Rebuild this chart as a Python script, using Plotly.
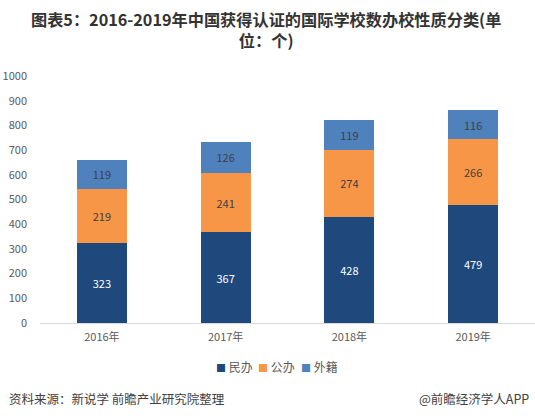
import plotly.graph_objects as go

years = ["2016年", "2017年", "2018年", "2019年"]
minban = [323, 367, 428, 479]
gongban = [219, 241, 274, 266]
waiji = [119, 126, 119, 116]
series_names = ["民办", "公办", "外籍"]
colors = ["#1F487C", "#F79646", "#4F81BD"]
text_colors = ["#FFFFFF", "#404040", "#404040"]
title_lines = ["图表5：2016-2019年中国获得认证的国际学校数办校性质分类(单", "位：个)"]

FONT = "Noto Sans CJK SC, Noto Sans, sans-serif"

fig = go.Figure()
for name, vals, c, tc in zip(series_names, [minban, gongban, waiji], colors, text_colors):
    fig.add_trace(go.Bar(
        x=years, y=vals, name=name, marker=dict(color=c, line=dict(width=0)),
        text=vals, textposition="inside", insidetextanchor="middle",
        textangle=0, constraintext="none",
        textfont=dict(color=tc, size=11, family=FONT),
    ))

W, H = 535, 419
left, right, top, bottom = 40, 0, 76, 96
pw = W - left - right
ph = H - top - bottom

def py(pix):
    return (H - bottom - pix) / ph

def px(pix):
    return (pix - left) / pw

fig.update_layout(
    width=W, height=H,
    barmode="stack", bargap=0.597,
    margin=dict(l=left, r=right, t=top, b=bottom),
    plot_bgcolor="white", paper_bgcolor="white",
    font=dict(family=FONT, color="#595959", size=11),
    yaxis=dict(range=[0, 1000], dtick=100, showgrid=False, zeroline=False,
               showline=False, ticks="", ticklabelstandoff=12,
               tickfont=dict(size=11, color="#595959")),
    xaxis=dict(showline=True, linecolor="#D9D9D9", linewidth=1, ticks="",
               tickfont=dict(size=11, color="#595959"), ticklabelstandoff=4),
    showlegend=False,
)

# title
fig.add_annotation(
    text="<b>" + "<br>".join(title_lines) + "</b>",
    xref="paper", yref="paper", x=px(266), xanchor="center", y=py(29), yanchor="middle",
    showarrow=False, align="center",
    font=dict(size=16.2, color="#333333", family=FONT),
)

# legend (manual, compact like the reference)
legend_x = [216, 258, 301]
for name, c, lx in zip(series_names, colors, legend_x):
    fig.add_annotation(
        text=f"<span style='color:{c};font-size:10px'>■</span> {name}",
        xref="paper", yref="paper", x=px(lx - 2), xanchor="left", y=py(366), yanchor="middle",
        showarrow=False, font=dict(size=12, color="#595959", family=FONT),
    )

fig.add_annotation(text="资料来源：新说学 前瞻产业研究院整理", xref="paper", yref="paper",
                   x=px(7), xanchor="left", y=py(398), yanchor="middle",
                   showarrow=False, font=dict(size=12.5, color="#404040", family=FONT))
fig.add_annotation(text="@前瞻经济学人APP", xref="paper", yref="paper",
                   x=px(531), xanchor="right", y=py(398), yanchor="middle",
                   showarrow=False, font=dict(size=12.5, color="#404040", family=FONT))

fig.write_html("out.html", config={"displayModeBar": False},
               post_script="document.body.style.margin='0';")
